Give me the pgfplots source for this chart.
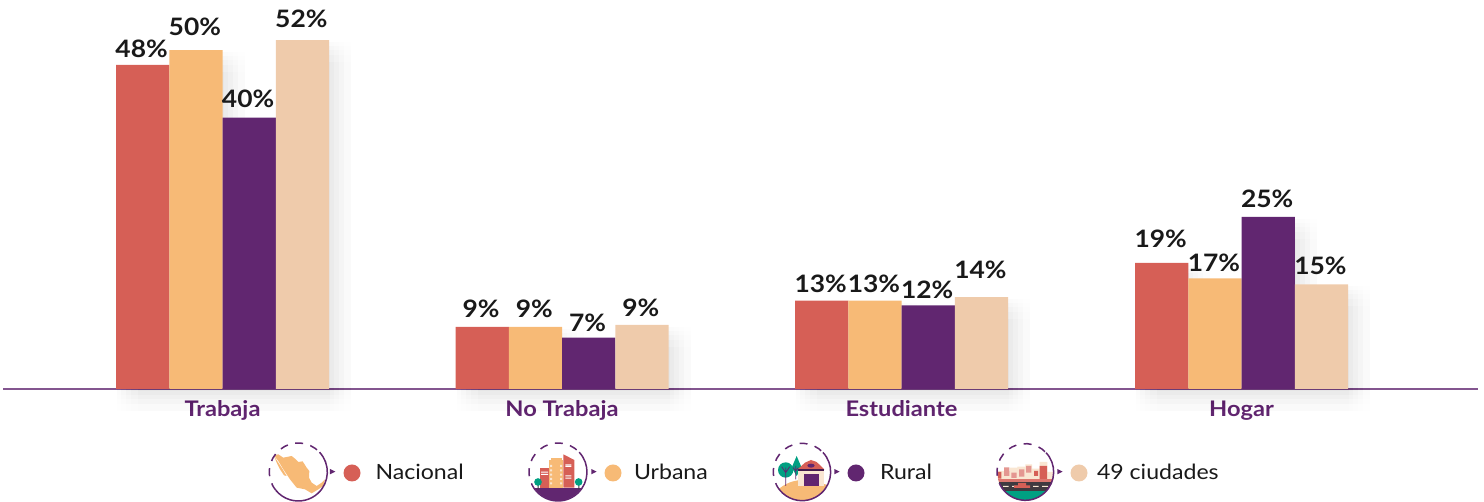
\documentclass[border=0pt]{standalone}
\usepackage{pgfplots}
\usepackage{pgfplotstable}
\usepackage{fontspec}
\setmainfont{Lato}[FakeStretch=1.1]
\pgfplotsset{compat=1.18}
\definecolor{cNac}{HTML}{D65F56}
\definecolor{cUrb}{HTML}{F7BA76}
\definecolor{cRur}{HTML}{612670}
\definecolor{cCiu}{HTML}{EFCBAB}
\definecolor{cLine}{HTML}{83558F}
\definecolor{cGreen}{HTML}{00A082}
\definecolor{cCream}{HTML}{F9E6D2}
\definecolor{cDark}{HTML}{3F3A40}
% x = group centre, y = bar height, l = printed label, g = gap label/bar
\pgfplotstableread{
x y l g
222.5 48.0 48 7
562 9.2 9 9
901.5 13.1 13 8
1241.5 18.7 19 15
}\tNac
\pgfplotstableread{
x y l g
222.5 50.2 50 15
562 9.2 9 9
901.5 13.1 13 8
1241.5 16.4 17 7
}\tUrb
\pgfplotstableread{
x y l g
222.5 40.2 40 10
562 7.6 7 6
901.5 12.4 12 7
1241.5 25.5 25 9
}\tRur
\pgfplotstableread{
x y l g
222.5 51.7 52 13
562 9.5 9 8
901.5 13.6 14 19
1241.5 15.5 15 10
}\tCiu
\newcommand\shone[4]{\addplot[ybar,forget plot,bar width=53.25pt,bar shift=#2pt+#3pt,yshift=#4pt,fill=black,draw=none,opacity=0.0035] table[x=x,y=y]{#1};}
\newcommand\shset[2]{%
\shone{\tNac}{-79.875}{#1}{#2}\shone{\tUrb}{-26.625}{#1}{#2}\shone{\tRur}{26.625}{#1}{#2}\shone{\tCiu}{79.875}{#1}{#2}}
\newcommand\shrow[1]{\shset{1}{#1}\shset{5}{#1}\shset{10}{#1}\shset{15}{#1}\shset{22}{#1}}
\newcommand\bars[3]{\addplot[ybar,forget plot,bar width=53.25pt,bar shift=#2pt,fill=#3,draw=none,
  point meta=explicit symbolic,
  visualization depends on={\thisrow{g}\as\dy},
  nodes near coords={\pgfplotspointmeta\%},
  every node near coord/.append style={anchor=base,inner sep=0pt,xshift=#2pt-1pt,yshift=\dy pt,font=\fontsize{24}{24}\selectfont\bfseries,text=black!90}
  ] table[x=x,y=y,meta=l]{#1};}
\newcommand\ring[3]{%
  \draw[cRur,line width=1.5pt] (#1,#2) ++(-43:#3) arc[start angle=-43,end angle=141,radius=#3];
  \draw[cRur,line width=1.5pt,dash pattern=on 8pt off 7.5pt] (#1,#2) ++(141:#3) arc[start angle=141,end angle=317,radius=#3];}
\newcommand\arrowhead[2]{\fill[cRur] (#1,#2-8) -- (#1+16,#2) -- (#1,#2+8) -- cycle;}
\newcommand\legdot[1]{\path[draw=none,fill=none](-8.5pt,-8.5pt)rectangle(8.5pt,8.5pt);\fill[#1,draw=none](0,0)circle(8.5pt);}
\begin{document}
\begin{tikzpicture}
\path[use as bounding box] (0,0) rectangle (1484pt,502pt);
\begin{axis}[
  at={(3pt,0pt)},anchor=south west,
  x=1pt,y=6.75pt,
  xmin=3,xmax=1478,
  ymin=-16.74,ymax=57.63,
  axis x line=middle,axis y line=none,
  x axis line style={-,draw=cLine,line width=1.6pt},
  clip=false,
  xtick={222.5,562,901.5,1241.5},
  xticklabels={Trabaja,No Trabaja,Estudiante,Hogar},
  xticklabel style={font=\fontsize{21.5}{22}\selectfont\bfseries,text=cRur,anchor=base,yshift=-28pt,inner sep=0pt},
  major tick length=0pt,
  ytick=\empty,
  legend columns=4,
  legend cell align=left,
  legend style={at={(0.23085,0.0578)},anchor=west,draw=none,fill=none,inner sep=0pt,outer sep=0pt,
    nodes={inner sep=0pt,outer sep=0pt},/tikz/column sep=0pt,font=\fontsize{21}{21}\selectfont,text=black!90},
]
\shrow{-2}\shrow{-6}\shrow{-10}\shrow{-15}\shrow{-22}
\bars{\tNac}{-79.875}{cNac}
\bars{\tUrb}{-26.625}{cUrb}
\bars{\tRur}{26.625}{cRur}
\bars{\tCiu}{79.875}{cCiu}
\addlegendimage{legend image code/.code={\legdot{cNac}}}
\addlegendentry{\makebox[244pt][l]{\hspace*{15pt}Nacional}}
\addlegendimage{legend image code/.code={\legdot{cUrb}}}
\addlegendentry{\makebox[226pt][l]{\hspace*{12.5pt}Urbana}}
\addlegendimage{legend image code/.code={\legdot{cRur}}}
\addlegendentry{\makebox[206pt][l]{\hspace*{15.5pt}Rural}}
\addlegendimage{legend image code/.code={\legdot{cCiu}}}
\addlegendentry{\makebox[130pt][l]{\hspace*{9.5pt}49 ciudades}}
\end{axis}
% --- legend icons (decoration), coordinates in 3x zoom pixels
% Nacional: map of Mexico
\begin{scope}[shift={(260pt,66pt)},x=0.3333pt,y=-0.3333pt]
  \fill[cUrb] (42,58)--(55,55)--(70,65)--(95,60)--(105,68)--(115,78)--(128,76)--(140,95)--(148,105)--(147,125)--(155,140)--(170,150)--(185,140)--(195,130)--(190,150)--(175,160)--(155,172)--(135,160)--(110,155)--(90,130)--(70,100)--(55,75)--cycle;
  \fill[cUrb] (42,60)--(55,80)--(65,95)--(80,120)--(72,118)--(60,100)--(50,80)--cycle;
  \ring{115}{108}{87}
  \arrowhead{210}{107}
\end{scope}
% Urbana: buildings
\begin{scope}[shift={(522pt,66pt)},x=0.3333pt,y=-0.3333pt]
  \begin{scope}
    \clip (108,108) circle[radius=86];
    \fill[cRur] (20,155) rectangle (200,200);
  \end{scope}
  \fill[cNac] (54,96) rectangle (82,155);
  \fill[cUrb] (82,72) rectangle (124,155);
  \fill[cUrb] (87,65) rectangle (120,72);
  \fill[cNac] (124,55)--(157,72)--(157,155)--(124,155)--cycle;
  \fill[white] (57,107) rectangle (78,110) (57,114) rectangle (78,117) (130,85) rectangle (148,88) (130,90) rectangle (148,93) (130,118) rectangle (148,121) (130,125) rectangle (148,128);
  \fill[cCream] (84,87) rectangle (90,93) (114,87) rectangle (120,93) (84,100) rectangle (90,106) (114,100) rectangle (120,106) (84,113) rectangle (90,119) (114,113) rectangle (120,119) (84,126) rectangle (90,132) (114,126) rectangle (120,132) (84,139) rectangle (90,145) (114,139) rectangle (120,145);
  \fill[cDark] (47,145) rectangle (50,160) (169,145) rectangle (172,160);
  \fill[cGreen] (48,138) circle[radius=11.5] (170,138) circle[radius=11.5];
  \ring{108}{108}{87}
  \arrowhead{208}{107}
\end{scope}
% Rural: barn
\begin{scope}[shift={(765pt,66pt)},x=0.3333pt,y=-0.3333pt]
  \begin{scope}
    \clip (111,108) circle[radius=86];
    \fill[cUrb] (35,165) .. controls (60,140) and (90,132) .. (115,132) .. controls (140,132) and (165,140) .. (190,148) -- (190,200) -- (35,200) -- cycle;
  \end{scope}
  \fill[cGreen] (62,102) circle[radius=23];
  \fill[cGreen] (95,60)--(110,95)--(95,120)--(80,95)--cycle;
  \draw[cRur,line width=0.8pt] (62,95)--(62,150) (50,92)--(62,110)--(74,92) (92,90)--(92,130) (84,95)--(92,105)--(100,95);
  \fill[cCream] (100,102) rectangle (177,150);
  \fill[cRur] (117,113) rectangle (162,150);
  \fill[cNac] (98,100)--(120,80)--(138,72)--(155,78)--(178,100)--cycle;
  \fill[cRur!70!black] (98,100) rectangle (178,104);
  \fill[cRur] (138,89) ellipse[x radius=11,y radius=6];
  \ring{111}{108}{86}
  \arrowhead{208}{107}
\end{scope}
% 49 ciudades: street
\begin{scope}[shift={(988pt,66pt)},x=0.3333pt,y=-0.3333pt]
  \begin{scope}
    \clip (112,108) circle[radius=85];
    \fill[cCream] (28,105) rectangle (66,132) (66,95) rectangle (88,132) (88,92) rectangle (112,132) (112,85) rectangle (132,132) (132,98) rectangle (155,132) (155,78) rectangle (178,132) (178,108) rectangle (200,132);
    \fill[cNac!65!white] (48,94) rectangle (64,120) (70,110) rectangle (86,126) (93,100) rectangle (109,122) (114,90) rectangle (130,110);
    \fill[cNac] (155,90) rectangle (177,130) (138,105) rectangle (150,120) (30,108) rectangle (40,128);
    \fill[cNac!85!white] (20,130) rectangle (200,137);
    \fill[cDark] (20,137) rectangle (200,165);
    \fill[cCream] (45,150) rectangle (62,153) (72,150) rectangle (90,153) (135,150) rectangle (152,153) (162,150) rectangle (180,153);
    \fill[cNac] (78,148) rectangle (126,156) (90,141) rectangle (114,148);
    \fill[cGreen] (20,165) rectangle (200,200);
  \end{scope}
  \ring{112}{108}{85}
  \arrowhead{208}{107}
\end{scope}
\end{tikzpicture}
\end{document}
